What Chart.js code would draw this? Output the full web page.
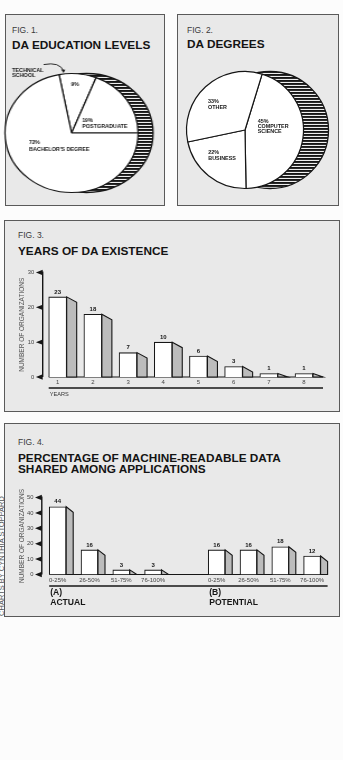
<!DOCTYPE html>
<html lang="en">
<head>
<meta charset="UTF-8">
<meta name="viewport" content="width=device-width, initial-scale=1.0">
<title>DA Survey Charts</title>
<script src="https://cdn.jsdelivr.net/npm/chart.js"></script>
<style>
  body { margin: 0; width: 343px; height: 760px; position: relative; overflow: hidden; background: #fcfcfc;
         font-family: "Liberation Sans", Arial, Helvetica, sans-serif; color: #141414; }
  .panel { position: absolute; box-sizing: border-box; background: #e9e9e9; border: 1px solid #5a5a5a; }
  .fig { position: absolute; font-size: 8.5px; line-height: 10px; color: #3a3a3a; white-space: nowrap; }
  .head { position: absolute; font-size: 11.8px; line-height: 11.7px; font-weight: bold; white-space: nowrap; }
  .plot { position: absolute; }
  .credit { position: absolute; font-size: 7.5px; color: #555; white-space: nowrap;
            transform: translate(-50%, -50%) rotate(-90deg); }
</style>
</head>
<body>
<div class="panel" style="left:5px;top:14px;width:160px;height:192px"></div>
<div class="panel" style="left:177px;top:14px;width:162px;height:192px"></div>
<div class="panel" style="left:4px;top:220px;width:336px;height:192px"></div>
<div class="panel" style="left:4px;top:423px;width:336px;height:194px"></div>

<div class="fig" style="left:12px;top:25px">FIG. 1.</div>
<div class="head" style="left:12px;top:39.5px">DA EDUCATION LEVELS</div>
<div class="fig" style="left:187px;top:25px">FIG. 2.</div>
<div class="head" style="left:187px;top:39px">DA DEGREES</div>
<div class="fig" style="left:18px;top:230px">FIG. 3.</div>
<div class="head" style="left:18px;top:246px">YEARS OF DA EXISTENCE</div>
<div class="fig" style="left:18px;top:437px">FIG. 4.</div>
<div class="head" style="left:18px;top:452.5px">PERCENTAGE OF MACHINE-READABLE DATA<br>SHARED AMONG APPLICATIONS</div>
<div class="credit" style="left:0.5px;top:556px">CHARTS BY CYNTHIA STOPPARD</div>

<!-- fig 1 is squeezed into an oval like the printed one -->
<div class="plot" style="left:0;top:60px;width:147px;height:146px;transform:scaleX(1.118);transform-origin:0 0"><canvas id="fig1"></canvas></div>
<div class="plot" style="left:175px;top:62px;width:165px;height:140px"><canvas id="fig2"></canvas></div>
<div class="plot" style="left:0;top:262px;width:343px;height:142px"><canvas id="fig3"></canvas></div>
<div class="plot" style="left:0;top:485px;width:343px;height:130px"><canvas id="fig4"></canvas></div>

<script>
// data
const eduNames = ["TECHNICAL SCHOOL", "POSTGRADUATE", "BACHELOR'S DEGREE"];
const eduShares = [9, 19, 72];
const degreeNames = ["COMPUTER SCIENCE", "BUSINESS", "OTHER"];
const degreeShares = [45, 22, 33];
const yearLabels = ["1", "2", "3", "4", "5", "6", "7", "8"];
const yearCounts = [23, 18, 7, 10, 6, 3, 1, 1];
const shareRanges = ["0-25%", "26-50%", "51-75%", "76-100%"];
const actualCounts = [44, 16, 3, 3];
const potentialCounts = [16, 16, 18, 12];
const groupTags = ["(A)", "(B)"];
const groupNames = ["ACTUAL", "POTENTIAL"];

const INK = "#161616";
const FONT = '"Liberation Sans", Arial, Helvetica, sans-serif';
Chart.defaults.font.family = FONT;

function hatch(ctx) {
    const c = document.createElement("canvas");
    c.width = 4; c.height = 3;
    const g = c.getContext("2d");
    g.fillStyle = "#eeeeee"; g.fillRect(0, 0, 4, 3);
    g.fillStyle = INK; g.fillRect(0, 0, 4, 1.9);
    return ctx.createPattern(c, "repeat");
}

// shaded rim behind the pie + the printed labels
const pieNotes = {
    id: "pieNotes",
    beforeDatasetsDraw(chart, args, o) {
        const arc = chart.getDatasetMeta(0).data[0];
        const { x, y, outerRadius: r } = arc.getProps(["x", "y", "outerRadius"], true);
        const ctx = chart.ctx;
        ctx.save();
        ctx.beginPath();
        ctx.arc(x + o.rim, y, r, 0, Math.PI * 2);
        ctx.fillStyle = hatch(ctx);
        ctx.fill();
        ctx.lineWidth = 1.3;
        ctx.strokeStyle = INK;
        ctx.stroke();
        ctx.restore();
    },
    afterDatasetsDraw(chart, args, o) {
        const arc = chart.getDatasetMeta(0).data[0];
        const { x, y, outerRadius: r } = arc.getProps(["x", "y", "outerRadius"], true);
        const ctx = chart.ctx;
        ctx.save();
        ctx.fillStyle = INK;
        ctx.font = "bold " + o.size + "px " + FONT;
        ctx.textBaseline = "middle";
        o.notes.forEach(n => {
            ctx.textAlign = n.align || "left";
            n.lines.forEach((t, k) => ctx.fillText(t, x + n.dx * r, y + n.dy * r + k * (n.step || 5.6)));
        });
        if (o.arrow) {
            const a = o.arrow;
            const ex = x + a[2][0] * r, ey = y + a[2][1] * r;
            ctx.strokeStyle = INK;
            ctx.lineWidth = 0.9;
            ctx.beginPath();
            ctx.moveTo(x + a[0][0] * r, y + a[0][1] * r);
            ctx.quadraticCurveTo(x + a[1][0] * r, y + a[1][1] * r, ex, ey - 2);
            ctx.stroke();
            ctx.beginPath();
            ctx.moveTo(ex, ey);
            ctx.lineTo(ex - 2.2, ey - 3.5);
            ctx.lineTo(ex + 1.6, ey - 3.2);
            ctx.closePath();
            ctx.fill();
        }
        ctx.restore();
    }
};

function pieChart(id, names, shares, o) {
    return new Chart(document.getElementById(id), {
        type: "pie",
        data: {
            labels: names,
            datasets: [{ data: shares, backgroundColor: "#ffffff", borderColor: INK, borderWidth: 1.2, hoverOffset: 0 }]
        },
        options: {
            responsive: true,
            maintainAspectRatio: false,
            animation: false,
            events: [],
            rotation: o.rotation,
            radius: o.radius,
            layout: { padding: o.padding },
            plugins: { legend: { display: false }, tooltip: { enabled: false }, pieNotes: o.decor }
        },
        plugins: [pieNotes]
    });
}

const pct = v => v + "%";

pieChart("fig1", eduNames, eduShares, {
    rotation: -10.8,
    radius: 59.5,
    padding: { left: 0, right: 19, top: 0, bottom: 0 },
    decor: {
        rim: 13.4,
        size: 4.9,
        notes: [
            { lines: [pct(eduShares[0])], dx: 0.053, dy: -0.82, align: "center" },
            { lines: eduNames[0].split(" "), dx: -0.895, dy: -1.05, step: 4.9 },
            { lines: [pct(eduShares[1]), eduNames[1]], dx: 0.158, dy: -0.2 },
            { lines: [pct(eduShares[2]), eduNames[2]], dx: -0.64, dy: 0.16, step: 7 }
        ],
        arrow: [[-0.42, -1.15], [-0.18, -1.2], [-0.12, -1.01]]
    }
});

pieChart("fig2", degreeNames, degreeShares, {
    rotation: 17,
    radius: 58.5,
    padding: { left: 0, right: 25, top: 0, bottom: 4 },
    decor: {
        rim: 25,
        size: 5.4,
        notes: [
            { lines: [pct(degreeShares[0])].concat(degreeNames[0].split(" ")), dx: 0.217, dy: -0.142, step: 5 },
            { lines: [pct(degreeShares[1]), degreeNames[1]], dx: -0.627, dy: 0.385 },
            { lines: [pct(degreeShares[2]), degreeNames[2]], dx: -0.632, dy: -0.49, step: 6 }
        ]
    }
});

// 3-d bar look, axis marks and captions
const bar3d = {
    id: "bar3d",
    beforeDatasetsDraw(chart, args, o) {
        const { ctx, chartArea } = chart;
        const ys = chart.scales.y;
        const base = ys.getPixelForValue(0);
        const vals = chart.data.datasets[0].data;
        const bars = chart.getDatasetMeta(0).data.filter((b, i) => vals[i] != null);
        const x0 = bars[0].x - bars[0].width / 2;
        const last = bars[bars.length - 1];
        const x1 = last.x + last.width / 2 + o.dx;
        const ax = chartArea.left + o.axisShift;
        ctx.save();
        ctx.strokeStyle = INK;
        ctx.fillStyle = INK;
        ctx.lineWidth = 1.4;
        ctx.beginPath();
        ctx.moveTo(ax, ys.getPixelForValue(ys.max) - 1);
        ctx.lineTo(ax, base);
        ctx.stroke();
        ys.ticks.forEach(t => {
            const p = ys.getPixelForValue(t.value);
            ctx.beginPath();
            ctx.moveTo(ax, p - 2.7);
            ctx.lineTo(ax - 6.8, p);
            ctx.lineTo(ax, p + 2.7);
            ctx.closePath();
            ctx.fill();
        });
        ctx.lineWidth = 1.2;
        ctx.beginPath(); ctx.moveTo(x0, base); ctx.lineTo(x1, base); ctx.stroke();
        ctx.lineWidth = 1.5;
        ctx.beginPath(); ctx.moveTo(x0, base + o.rule); ctx.lineTo(x1, base + o.rule); ctx.stroke();
        ctx.restore();
    },
    afterDatasetsDraw(chart, args, o) {
        const ctx = chart.ctx;
        const base = chart.scales.y.getPixelForValue(0);
        const vals = chart.data.datasets[0].data;
        const meta = chart.getDatasetMeta(0);
        ctx.save();
        ctx.strokeStyle = INK;
        ctx.lineWidth = 1.1;
        ctx.lineJoin = "miter";
        meta.data.forEach((bar, i) => {
            if (vals[i] == null) return;
            const { x, y, width } = bar.getProps(["x", "y", "width"], true);
            const r = x + width / 2;
            ctx.beginPath();
            ctx.moveTo(r, y);
            ctx.lineTo(r + o.dx, Math.min(y + o.dy, base));
            ctx.lineTo(r + o.dx, base);
            ctx.lineTo(r, base);
            ctx.closePath();
            ctx.fillStyle = "#bcbcbc";
            ctx.fill();
            ctx.stroke();
            ctx.fillStyle = INK;
            ctx.font = "bold 6px " + FONT;
            ctx.textAlign = "center";
            ctx.textBaseline = "middle";
            ctx.fillText(String(vals[i]), x, y - 5);
        });
        o.captions.forEach(c => {
            const b = meta.data[c.at];
            ctx.font = c.font;
            ctx.fillStyle = c.color || INK;
            ctx.textAlign = "left";
            ctx.textBaseline = "middle";
            c.lines.forEach((t, k) => ctx.fillText(t, b.x - b.width / 2 + 1, base + c.y + k * c.step));
        });
        ctx.restore();
    }
};

function barChart(id, labels, values, o) {
    return new Chart(document.getElementById(id), {
        type: "bar",
        data: {
            labels: labels,
            datasets: [{ data: values, backgroundColor: "#ffffff", borderColor: INK, borderWidth: 1.1,
                         barThickness: o.thick, borderSkipped: "start" }]
        },
        options: {
            responsive: true,
            maintainAspectRatio: false,
            animation: false,
            events: [],
            layout: { padding: o.padding },
            scales: {
                x: {
                    grid: { display: false, drawTicks: false },
                    border: { display: false },
                    ticks: { color: "#444", font: { size: o.xFont }, padding: o.xPad, autoSkip: false, maxRotation: 0 },
                    afterFit: s => { s.height = 12; }
                },
                y: {
                    min: 0,
                    max: o.max,
                    grid: { display: false, drawTicks: false },
                    border: { display: false },
                    ticks: { stepSize: 10, color: "#444", font: { size: 5.8 }, padding: o.yPad },
                    title: { display: true, text: "NUMBER OF ORGANIZATIONS", color: "#555", font: { size: 6.5 }, padding: 0 },
                    afterFit: s => { s.width = o.yWidth; }
                }
            },
            plugins: { legend: { display: false }, tooltip: { enabled: false }, bar3d: o.decor }
        },
        plugins: [bar3d]
    });
}

barChart("fig3", yearLabels, yearCounts, {
    thick: 18,
    max: 30,
    xFont: 6,
    xPad: 2,
    yPad: 6,
    yWidth: 22.1,
    padding: { left: 18, right: 21.4, top: 10.5, bottom: 15 },
    decor: {
        dx: 10, dy: 5.5, axisShift: 2.6, rule: 11,
        captions: [{ at: 0, lines: ["YEARS"], y: 17.5, step: 0, font: "5.6px " + FONT, color: "#333" }]
    }
});

barChart("fig4", shareRanges.concat([""], shareRanges), actualCounts.concat([null], potentialCounts), {
    thick: 17,
    max: 50,
    xFont: 6,
    xPad: 2.4,
    yPad: 8.3,
    yWidth: 23.8,
    padding: { left: 18, right: 15, top: 12.5, bottom: 28.5 },
    decor: {
        dx: 7, dy: 5.5, axisShift: 0, rule: 11.5,
        captions: [
            { at: 0, lines: [groupTags[0], groupNames[0]], y: 18.5, step: 10, font: "bold 8.6px " + FONT },
            { at: 5, lines: [groupTags[1], groupNames[1]], y: 18.5, step: 10, font: "bold 8.6px " + FONT }
        ]
    }
});
</script>
</body>
</html>
